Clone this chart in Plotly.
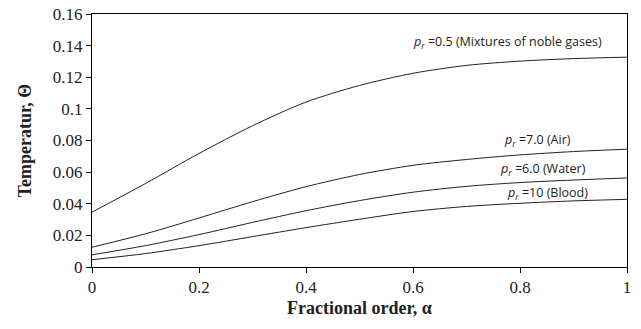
import plotly.graph_objects as go

alpha = [0.0, 0.1, 0.2, 0.3, 0.4, 0.5, 0.6, 0.7, 0.8, 0.9, 1.0]
theta_noble = [0.0347, 0.0528, 0.0718, 0.0893, 0.1043, 0.1148, 0.1225, 0.1275, 0.1302, 0.1318, 0.1327]
theta_air = [0.0125, 0.021, 0.031, 0.0413, 0.0508, 0.0585, 0.0643, 0.068, 0.0709, 0.073, 0.0745]
theta_water = [0.0077, 0.0135, 0.0205, 0.0282, 0.0356, 0.042, 0.0473, 0.051, 0.0534, 0.055, 0.0563]
theta_blood = [0.0046, 0.0085, 0.0135, 0.0192, 0.0249, 0.0302, 0.0351, 0.0383, 0.0403, 0.0418, 0.0428]

labels = [
    "<i>p</i><sub><i>r</i></sub> =0.5 (Mixtures of noble gases)",
    "<i>p</i><sub><i>r</i></sub> =7.0 (Air)",
    "<i>p</i><sub><i>r</i></sub> =6.0 (Water)",
    "<i>p</i><sub><i>r</i></sub> =10 (Blood)",
]
label_x = [0.776, 0.833, 0.843, 0.851]
label_y = [0.1422, 0.0797, 0.0616, 0.0468]

x_ticks = [0, 0.2, 0.4, 0.6, 0.8, 1]
x_ticktext = ["0", "0.2", "0.4", "0.6", "0.8", "1"]
y_ticks = [0, 0.02, 0.04, 0.06, 0.08, 0.1, 0.12, 0.14, 0.16]
y_ticktext = ["0", "0.02", "0.04", "0.06", "0.08", "0.1", "0.12", "0.14", "0.16"]

fig = go.Figure()
for ys in [theta_noble, theta_air, theta_water, theta_blood]:
    fig.add_trace(go.Scatter(x=alpha, y=ys, mode="lines",
                             line=dict(color="#222222", width=1, shape="spline", smoothing=0.8),
                             showlegend=False, hoverinfo="skip"))

for t, xx, yy in zip(labels, label_x, label_y):
    fig.add_annotation(x=xx, y=yy, text=t, showarrow=False, xref="x", yref="y",
                       font=dict(family="Open Sans", size=12.5, color="#222222"))

serif = "Liberation Serif"
fig.update_layout(
    width=641, height=329,
    margin=dict(l=92, r=14, t=14, b=62),
    paper_bgcolor="white", plot_bgcolor="white",
    font=dict(family=serif, color="#222222"),
)
fig.update_xaxes(range=[0, 1], tickvals=x_ticks, ticktext=x_ticktext, automargin=False,
                 showgrid=False, zeroline=False, showline=True, linecolor="black", linewidth=1,
                 mirror=True, ticks="outside", ticklen=5, tickcolor="black",
                 tickfont=dict(family=serif, size=17),
                 title=dict(text="<b>Fractional order, α</b>", font=dict(family=serif, size=18), standoff=4))
fig.update_yaxes(range=[0, 0.16], tickvals=y_ticks, ticktext=y_ticktext, automargin=False,
                 showgrid=False, zeroline=False, showline=True, linecolor="black", linewidth=1,
                 mirror=True, ticks="outside", ticklen=5, tickcolor="black",
                 tickfont=dict(family=serif, size=17),
                 title=dict(text="<b>Temperatur, Θ</b>", font=dict(family=serif, size=18), standoff=16))

fig.write_html("out.html")
